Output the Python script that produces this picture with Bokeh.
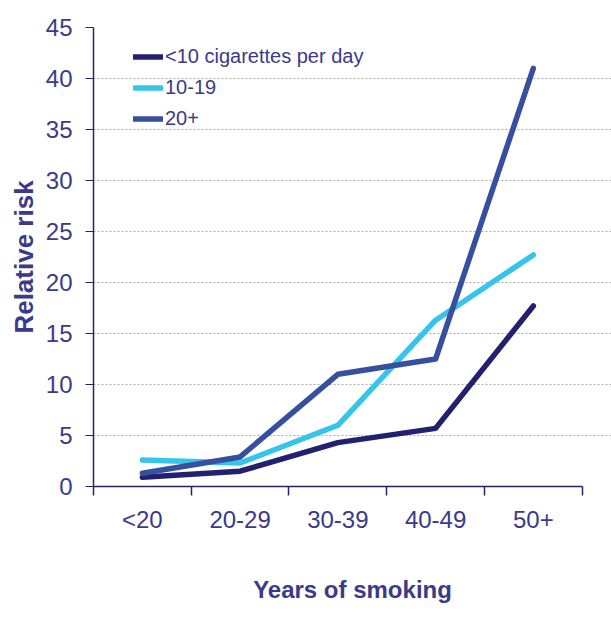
from bokeh.plotting import figure
from bokeh.models import Range1d, FixedTicker, Legend, LegendItem
from bokeh.embed import file_html
from bokeh.resources import INLINE

categories = ["<20", "20-29", "30-39", "40-49", "50+"]
lt10 = [0.9, 1.5, 4.3, 5.7, 17.7]
s10_19 = [2.6, 2.3, 6.0, 16.3, 22.7]
s20p = [1.3, 2.9, 11.0, 12.5, 41.0]
series_names = ["<10 cigarettes per day", "10-19", "20+"]
colors = ["#232070", "#35c4ea", "#364f9f"]
y_ticks = [0, 5, 10, 15, 20, 25, 30, 35, 40, 45]

FONT = "'Liberation Sans Narrow', 'Liberation Sans', Arial, sans-serif"
TXT = "#3b3a8a"
AX = "#26245f"

xs = [i + 0.5 for i in range(len(categories))]

p = figure(width=611, height=626, output_backend="svg", toolbar_location=None,
           x_range=Range1d(0, 5.3), y_range=Range1d(0, 45))
p.min_border_left = 93
p.min_border_top = 27
p.min_border_bottom = 140
p.min_border_right = 0
p.outline_line_color = None
p.background_fill_color = "white"
p.border_fill_color = "white"

renderers = []
for ys, c in zip([lt10, s10_19, s20p], colors):
    r = p.line(xs, ys, line_color=c, line_width=5.5, line_join="round", line_cap="round")
    renderers.append(r)

# x axis
xa = p.xaxis[0]
xa.ticker = FixedTicker(ticks=xs, minor_ticks=list(range(6)))
xa.major_label_overrides = {x: c for x, c in zip(xs, categories)}
xa.major_tick_out = 0
xa.major_tick_in = 0
xa.minor_tick_out = 9
xa.minor_tick_in = 0
xa.minor_tick_line_color = AX
xa.minor_tick_line_width = 1.5
xa.axis_line_color = AX
xa.axis_line_width = 1.5
xa.bounds = (0, 5)
xa.major_label_standoff = 10
xa.major_label_text_font = FONT
xa.major_label_text_font_size = "24px"
xa.major_label_text_color = TXT
xa.axis_label = "Years of smoking"
xa.axis_label_text_font = FONT
xa.axis_label_text_font_size = "24px"
xa.axis_label_text_font_style = "bold"
xa.axis_label_text_color = TXT
xa.axis_label_standoff = 40

# y axis
ya = p.yaxis[0]
ya.ticker = FixedTicker(ticks=y_ticks)
ya.minor_tick_line_color = None
ya.major_tick_out = 8
ya.major_tick_in = 0
ya.major_tick_line_color = AX
ya.major_tick_line_width = 1.2
ya.axis_line_color = AX
ya.axis_line_width = 1.5
ya.major_label_standoff = 13
ya.major_label_text_font = FONT
ya.major_label_text_font_size = "24px"
ya.major_label_text_color = TXT
ya.axis_label = "Relative risk"
ya.axis_label_text_font = FONT
ya.axis_label_text_font_size = "26px"
ya.axis_label_text_font_style = "bold"
ya.axis_label_text_color = TXT
ya.axis_label_standoff = 4

p.xgrid.grid_line_color = None
p.ygrid.grid_line_color = "#aaaaaa"
p.ygrid.grid_line_dash = "2 2"
p.ygrid.grid_line_width = 1

legend = Legend(items=[LegendItem(label=n, renderers=[r]) for n, r in zip(series_names, renderers)],
                location=(40, 352), padding=5, spacing=0, label_height=31, glyph_width=30,
                glyph_height=31, label_standoff=2, border_line_color=None,
                background_fill_alpha=0, label_text_font=FONT, label_text_font_size="20px",
                label_text_color=TXT)
p.add_layout(legend)

open("out.html", "w").write(file_html(p, INLINE))
